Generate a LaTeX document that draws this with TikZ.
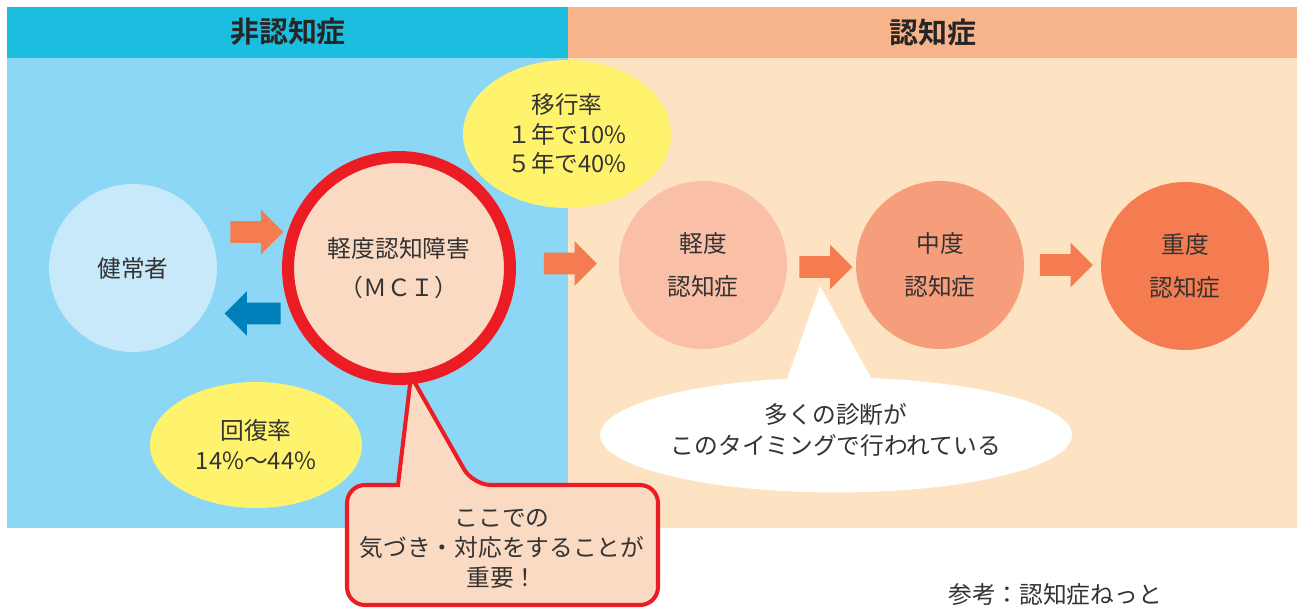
\documentclass[tikz,border=0pt]{standalone}
\usepackage{fontspec}
\newfontfamily\jpfont{Noto Sans CJK JP}[BoldFont={Noto Sans CJK JP Bold}]
\usepackage{tikz}
\usetikzlibrary{shapes.geometric, shapes.arrows}

\definecolor{headblue}{HTML}{1CBEE0}
\definecolor{headpeach}{HTML}{F7B48B}
\definecolor{bodyblue}{HTML}{8CD7F6}
\definecolor{bodypeach}{HTML}{FDE3C2}
\definecolor{healthblue}{HTML}{C8E9FA}
\definecolor{mcifill}{HTML}{FBDAC4}
\definecolor{alertred}{HTML}{EC1C24}
\definecolor{rateyellow}{HTML}{FFF36E}
\definecolor{arroworange}{HTML}{F47C50}
\definecolor{arrowblue}{HTML}{0080BB}
\definecolor{mildfill}{HTML}{F9C0A7}
\definecolor{modfill}{HTML}{F69E7C}
\definecolor{sevfill}{HTML}{F47C50}
\definecolor{textgray}{HTML}{333333}

\begin{document}
\begin{tikzpicture}[x=0.02cm, y=-0.02cm,
    every node/.style={font=\jpfont\fontsize{13.5pt}{17pt}\selectfont, text=textgray},
    header/.style={font=\jpfont\bfseries\fontsize{16.5pt}{20pt}\selectfont, text=black!85},
    stage/.style={circle, align=center, minimum size=3.36cm, inner sep=0pt},
    rate/.style={ellipse, fill=rateyellow, align=center, inner sep=0pt},
    fwd/.style={single arrow, fill=arroworange, minimum height=1.06cm, inner sep=0pt,
        inner ysep=0.21cm, single arrow head extend=0.23cm}]
    \useasboundingbox (0,0) rectangle (1297,608);

    % bands
    \fill[headblue]  (7,7)    rectangle (568,58);
    \fill[headpeach] (568,7)  rectangle (1297,58);
    \fill[bodyblue]  (7,58)   rectangle (568,528);
    \fill[bodypeach] (568,58) rectangle (1297,528);

    % callouts
    \draw[draw=alertred, fill=mcifill, line width=2.3pt]
        (411,376) -- (398,485) [rounded corners=0.36cm] -- (347,485) -- (347,605)
        -- (658,605) -- (658,485) -- (473,485) [sharp corners] -- cycle;
    \fill[white] (820,286) coordinate (tip) -- (785,385) -- (875,385) -- cycle;

    \draw
        ( 288,  32) node[header] (nonhead){非認知症}
        ( 933,  32) node[header] (dhead){認知症}

        ( 133, 268) node[stage, fill=healthblue] (healthy){健常者}
        ( 399, 268) node[circle, draw=alertred, line width=0.24cm, fill=mcifill, align=center,
                         minimum size=4.44cm, inner sep=0pt] (mci){軽度認知障害\\[5pt]（ＭＣＩ）}
        ( 703, 265) node[stage, fill=mildfill] (mild){軽度\\[7pt]認知症}
        ( 940, 265) node[stage, fill=modfill] (moderate){中度\\[7pt]認知症}
        (1185, 266) node[stage, fill=sevfill] (severe){重度\\[7pt]認知症}

        ( 567, 134) node[rate, minimum width=4.16cm, minimum height=2.96cm] (shift){移行率\\１年で10\%\\５年で40\%}
        ( 256, 445) node[rate, minimum width=4.24cm, minimum height=2.52cm] (recover){回復率\\14\%〜44\%}

        ( 836, 435) node[ellipse, fill=white, minimum width=9.44cm, minimum height=2.3cm] (bubble){}
        ( 836, 430) node[align=center] (diag){多くの診断が\\[1pt]このタイミングで行われている}
        ( 502, 549) node[align=center] (important){ここでの\\気づき・対応をすることが\\重要！}
        ( 948, 595) node[anchor=west, inner sep=0pt] (source){参考：認知症ねっと}
    ;
    \draw
        ( 251.5, 232) node[fwd] (tomci){}
        ( 258, 313.5) node[fwd, fill=arrowblue, shape border rotate=180, minimum height=1.12cm] (back){}
        ( 565, 263.5) node[fwd] (tomild){}
        ( 820.5, 267) node[fwd] (tomoderate){}
        (1061, 265) node[fwd] (tosevere){}
    ;
\end{tikzpicture}
\end{document}
